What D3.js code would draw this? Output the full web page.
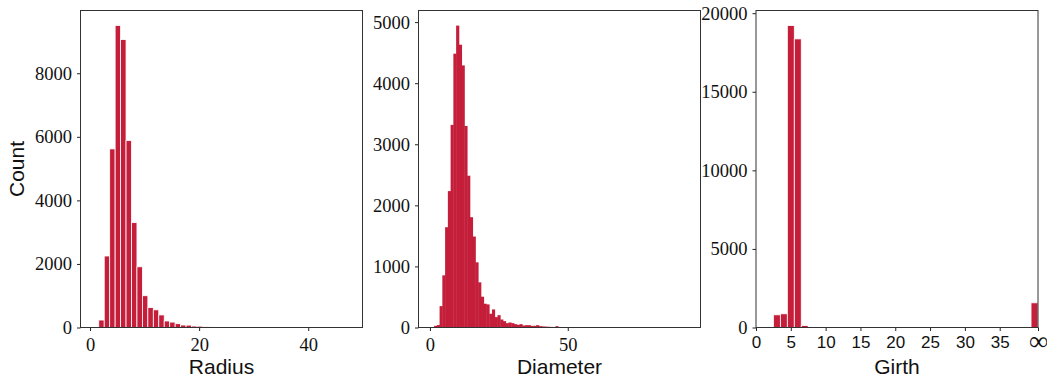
<!DOCTYPE html>
<html>
<head>
<meta charset="utf-8">
<script src="https://cdn.jsdelivr.net/npm/d3@7"></script>
<style>
  body { margin: 0; background: #fff; }
  .serif .tick text { font-family: "Liberation Serif", serif; font-size: 18.5px; fill: #111; }
  .sans .tick text { font-family: "Liberation Sans", sans-serif; font-size: 17px; fill: #111; }
  .tick line { stroke: #222; }
  .axis-title { font-family: "Liberation Sans", sans-serif; font-size: 21px; fill: #111; }
</style>
</head>
<body>
<svg id="chart" width="1047" height="377"></svg>
<script>
const barColor = '#c41e3a';

// Radius: bins of width 1 starting at 0.6
const radiusStart = 0.6;
const radiusCounts = [
  15, 235, 2250, 5620, 9500, 9060, 5880, 3300, 1910, 1000,
  625, 556, 395, 205, 170, 120, 78, 75, 45, 42,
  20, 18, 12, 8, 6, 10, 4, 8, 6, 3,
  8, 2, 6, 4, 0, 2, 6, 8, 5, 4,
  3, 0, 2, 0, 5, 6, 4
];

// Diameter: integer values 1..93, bins centred on the integers
const diameterStart = 0.5;
const diameterCounts = [
  3, 27, 40, 350, 854, 1642, 2233, 3317, 4483, 4943,
  4630, 4291, 3300, 2485, 1806, 1489, 1067, 739, 504, 389,
  378, 225, 296, 170, 202, 131, 104, 71, 82, 71,
  55, 44, 55, 33, 38, 38, 27, 27, 38, 22,
  18, 15, 12, 10, 8, 22, 8, 6, 5, 6,
  4, 5, 3, 4, 3, 2, 5, 4, 3, 2,
  0, 2, 4, 5, 3, 2, 0, 1, 2, 0,
  1, 0, 4, 3, 4, 2, 0, 1, 4, 3,
  2, 0, 1, 0, 0, 1, 0, 0, 3, 4,
  3, 2, 3
];

// Girth: 3..36 plus infinite girth (acyclic)
const girthValues = [
  3, 4, 5, 6, 7, 8, 9, 10, 11, 12, 13, 14, 15, 16, 17, 18, 19, 20,
  21, 22, 23, 24, 25, 26, 27, 28, 29, 30, 31, 32, 33, 34, 35, 36, Infinity
];
const girthCounts = [
  806, 871, 19211, 18365, 127, 30, 20, 15, 12, 10, 10, 8, 8, 6, 8, 5, 6, 5,
  4, 5, 3, 4, 4, 3, 2, 4, 2, 3, 2, 3, 2, 2, 2, 3, 1571
];
const girthInfAt = 40;
const girthTicks = [0, 5, 10, 15, 20, 25, 30, 35];

const svg = d3.select('#chart');
const panelTop = 10.5, panelH = 317, panelW = 282;

function histBins(start, counts) {
  return counts.map((n, i) => ({ x0: start + i, x1: start + i + 1, n: n }));
}

function padded(bins) {
  const lo = bins[0].x0, hi = bins[bins.length - 1].x1;
  const pad = (hi - lo) * 0.05;
  return [lo - pad, hi + pad];
}

function drawPanel(p) {
  const g = svg.append('g').attr('transform', 'translate(' + p.left + ',' + panelTop + ')');

  const x = d3.scaleLinear().domain(p.xDomain).range([0, panelW]);
  const y = d3.scaleLinear().domain([0, d3.max(p.bins, d => d.n) * 1.05]).range([panelH, 0]);

  g.append('g')
    .selectAll('rect')
    .data(p.bins)
    .join('rect')
    .attr('x', d => x(d.x0))
    .attr('width', d => x(d.x1) - x(d.x0) + (p.edge ? 0 : 0.4))
    .attr('y', d => y(d.n))
    .attr('height', d => y(0) - y(d.n))
    .attr('fill', barColor)
    .attr('stroke', p.edge ? '#fff' : 'none')
    .attr('stroke-width', 0.8);

  g.append('g')
    .attr('class', 'serif')
    .call(d3.axisLeft(y).tickValues(p.yTicks).tickSize(3.5).tickPadding(5).tickFormat(d3.format('d')))
    .call(a => a.select('.domain').remove());

  const xAxis = d3.axisBottom(x).tickValues(p.xTicks).tickSize(3.5).tickPadding(p.xPad);
  if (p.xFormat) xAxis.tickFormat(p.xFormat);
  g.append('g')
    .attr('class', p.xClass)
    .attr('transform', 'translate(0,' + panelH + ')')
    .call(xAxis)
    .call(a => a.select('.domain').remove())
    .call(a => a.selectAll('.tick text')
      .filter(function () { return this.textContent === '\u221e'; })
      .style('font-family', '"Liberation Serif", serif')
      .style('font-size', '27px')
      .attr('dy', '0.5em'));

  g.append('rect')
    .attr('width', panelW)
    .attr('height', panelH)
    .attr('fill', 'none')
    .attr('stroke', '#333')
    .attr('stroke-width', 1);

  g.append('text')
    .attr('class', 'axis-title')
    .attr('x', panelW / 2)
    .attr('y', 363)
    .attr('text-anchor', 'middle')
    .text(p.xLabel);

  if (p.yLabel) {
    g.append('text')
      .attr('class', 'axis-title')
      .attr('transform', 'translate(' + (24 - p.left) + ',' + (panelH / 2) + ') rotate(-90)')
      .attr('text-anchor', 'middle')
      .text(p.yLabel);
  }
}

const radiusBins = histBins(radiusStart, radiusCounts);
drawPanel({
  left: 80.5,
  bins: radiusBins,
  xDomain: padded(radiusBins),
  xTicks: [0, 20, 40],
  yTicks: [0, 2000, 4000, 6000, 8000],
  xClass: 'serif',
  xPad: 6.5,
  edge: true,
  xLabel: 'Radius',
  yLabel: 'Count'
});

const diameterBins = histBins(diameterStart, diameterCounts);
drawPanel({
  left: 418.5,
  bins: diameterBins,
  xDomain: padded(diameterBins),
  xTicks: [0, 50],
  yTicks: [0, 1000, 2000, 3000, 4000, 5000],
  xClass: 'serif',
  xPad: 6.5,
  edge: false,
  xLabel: 'Diameter'
});

const girthBins = girthValues.map((v, i) => {
  const c = isFinite(v) ? v : girthInfAt;
  return { x0: c - 0.5, x1: c + 0.5, n: girthCounts[i] };
});
drawPanel({
  left: 756,
  bins: girthBins,
  xDomain: [0, girthInfAt + 0.5],
  xTicks: girthTicks.concat([girthInfAt + 0.5]),
  xFormat: d => d > girthInfAt ? '\u221e' : d,
  yTicks: [0, 5000, 10000, 15000, 20000],
  xClass: 'sans',
  xPad: 5,
  edge: true,
  xLabel: 'Girth'
});
</script>
</body>
</html>
